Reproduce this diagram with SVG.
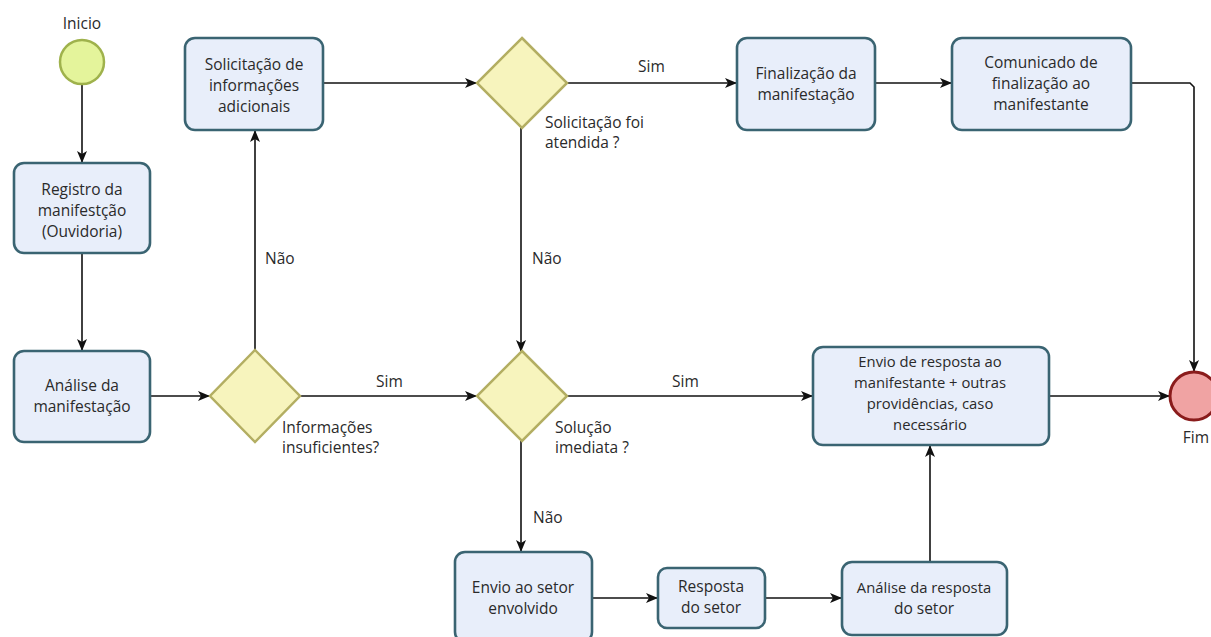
<svg xmlns="http://www.w3.org/2000/svg" width="1211" height="637" viewBox="0 0 1211 637">
<defs>
<style>
.box{fill:#e8eefa;stroke:#3a6472;stroke-width:2.6}
.dia{fill:#f7f4bd;stroke:#b3ae62;stroke-width:2.5}
.t{font-family:"Open Sans","Liberation Sans",sans-serif;font-size:15.5px;fill:#2a2a2a;text-anchor:middle}
.l{font-family:"Open Sans","Liberation Sans",sans-serif;font-size:15.5px;fill:#2a2a2a}
.n{font-size:14.8px}
.c{fill:none;stroke:#111;stroke-width:1.6}
</style>
<marker id="ah" viewBox="0 0 12 10" refX="11" refY="5" markerWidth="12" markerHeight="10" markerUnits="userSpaceOnUse" orient="auto">
<path d="M0,0 L12,5 L0,10 L3,5 Z" fill="#111"/>
</marker>
</defs>
<rect width="1211" height="637" fill="#fff"/>

<g id="connectors">
<line class="c" x1="82" y1="85" x2="82" y2="162" marker-end="url(#ah)"/>
<line class="c" x1="82" y1="253" x2="82" y2="350" marker-end="url(#ah)"/>
<line class="c" x1="150" y1="396" x2="209" y2="396" marker-end="url(#ah)"/>
<line class="c" x1="255" y1="350" x2="255" y2="131" marker-end="url(#ah)"/>
<line class="c" x1="323" y1="83" x2="476" y2="83" marker-end="url(#ah)"/>
<line class="c" x1="567" y1="83" x2="736" y2="83" marker-end="url(#ah)"/>
<line class="c" x1="875" y1="83" x2="951" y2="83" marker-end="url(#ah)"/>
<path class="c" d="M1131,83 L1190,83 L1194,87 L1194,371" marker-end="url(#ah)"/>
<line class="c" x1="521" y1="128" x2="521" y2="351" marker-end="url(#ah)"/>
<line class="c" x1="300" y1="396" x2="476" y2="396" marker-end="url(#ah)"/>
<line class="c" x1="567" y1="396" x2="812" y2="396" marker-end="url(#ah)"/>
<line class="c" x1="1049" y1="396" x2="1169" y2="396" marker-end="url(#ah)"/>
<line class="c" x1="521" y1="441" x2="521" y2="551" marker-end="url(#ah)"/>
<line class="c" x1="592" y1="598" x2="657" y2="598" marker-end="url(#ah)"/>
<line class="c" x1="765" y1="598" x2="841" y2="598" marker-end="url(#ah)"/>
<line class="c" x1="930" y1="562" x2="930" y2="446" marker-end="url(#ah)"/>
<text class="l" x="638" y="72">Sim</text>
<text class="l" x="265" y="264">Não</text>
<text class="l" x="532" y="264">Não</text>
<text class="l" x="376" y="387">Sim</text>
<text class="l" x="672" y="387">Sim</text>
<text class="l" x="533" y="523">Não</text>
</g>

<g id="inicio">
<text class="t" x="82" y="29">Inicio</text>
<circle cx="82" cy="62" r="22" fill="#e4f49b" stroke="#9fb24c" stroke-width="2.5"/>
</g>

<g id="registro">
<rect class="box" x="14" y="163" width="136" height="90" rx="10"/>
<text class="t" x="82" y="195">Registro da</text>
<text class="t" x="82" y="216">manifestção</text>
<text class="t" x="82" y="237">(Ouvidoria)</text>
</g>

<g id="analise">
<rect class="box" x="14" y="351" width="136" height="91" rx="10"/>
<text class="t" x="82" y="391">Análise da</text>
<text class="t" x="82" y="412">manifestação</text>
</g>

<g id="gw-info">
<polygon class="dia" points="255,350 300,396 255,442 210,396"/>
<text class="l" x="282" y="433">Informações</text>
<text class="l" x="282" y="453">insuficientes?</text>
</g>

<g id="solicitacao">
<rect class="box" x="185" y="38" width="138" height="92" rx="10"/>
<text class="t" x="254" y="70">Solicitação de</text>
<text class="t" x="254" y="91">informações</text>
<text class="t" x="254" y="112">adicionais</text>
</g>

<g id="gw-atendida">
<polygon class="dia" points="522,38 567,83 522,128 477,83"/>
<text class="l" x="545" y="128">Solicitação foi</text>
<text class="l" x="545" y="148">atendida ?</text>
</g>

<g id="finalizacao">
<rect class="box" x="737" y="38" width="138" height="92" rx="10"/>
<text class="t" x="806" y="79">Finalização da</text>
<text class="t" x="806" y="100">manifestação</text>
</g>

<g id="comunicado">
<rect class="box" x="952" y="38" width="179" height="92" rx="10"/>
<text class="t" x="1041" y="68">Comunicado de</text>
<text class="t" x="1041" y="89">finalização ao</text>
<text class="t" x="1041" y="110">manifestante</text>
</g>

<g id="gw-solucao">
<polygon class="dia" points="522,351 567,396 522,441 477,396"/>
<text class="l" x="555" y="433">Solução</text>
<text class="l" x="555" y="453">imediata  ?</text>
</g>

<g id="envio-resposta">
<rect class="box" x="813" y="347" width="236" height="98" rx="10"/>
<text class="t n" x="930" y="367">Envio de resposta ao</text>
<text class="t n" x="930" y="388">manifestante + outras</text>
<text class="t n" x="930" y="409">providências, caso</text>
<text class="t n" x="930" y="430">necessário</text>
</g>

<g id="fim">
<circle cx="1194" cy="396" r="24" fill="#f0a3a3" stroke="#8a1c1c" stroke-width="3"/>
<text class="t" x="1196" y="443">Fim</text>
</g>

<g id="envio-setor">
<rect class="box" x="455" y="552" width="137" height="90" rx="10"/>
<text class="t" x="523" y="593">Envio ao setor</text>
<text class="t" x="523" y="614">envolvido</text>
</g>

<g id="resposta-setor">
<rect class="box" x="658" y="568" width="107" height="60" rx="9"/>
<text class="t" x="711" y="592">Resposta</text>
<text class="t" x="711" y="613">do setor</text>
</g>

<g id="analise-resposta">
<rect class="box" x="842" y="562" width="165" height="73" rx="10"/>
<text class="t n" x="924" y="593">Análise da resposta</text>
<text class="t" x="924" y="614">do setor</text>
</g>
</svg>
